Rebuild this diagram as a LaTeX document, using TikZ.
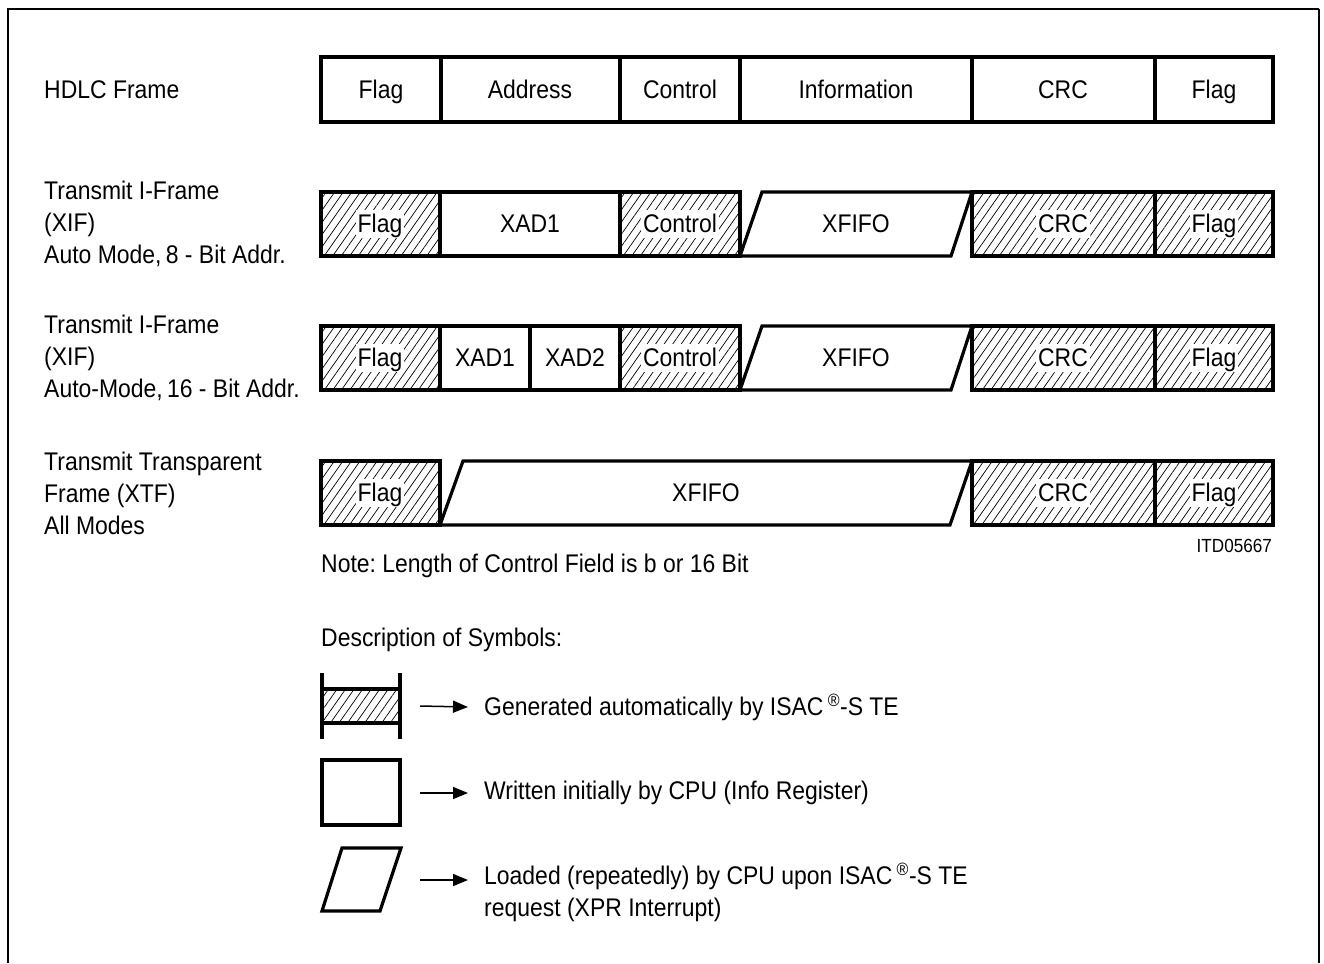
\documentclass[tikz,border=0pt]{standalone}
\usepackage{fontspec}
\setmainfont{Liberation Sans}[FakeStretch=0.9]
\usetikzlibrary{patterns.meta,arrows.meta}
\frenchspacing
\begin{document}
\begin{tikzpicture}[x=1pt,y=-1pt,
  lbl/.style={font=\fontsize{25.5}{32}\selectfont, inner sep=0pt},
  cell/.style={lbl, text height=23pt, text depth=5.4pt},
  txt/.style={lbl, anchor=west, align=left},
  boxline/.style={line width=3.2pt, line join=miter, line cap=rect},
  hatch/.style={pattern={Lines[angle=55,distance=7pt,line width=0.7pt]}},
  hlbl/.style={cell, fill=white, inner xsep=2pt, inner ysep=0pt},
  legarrow/.style={line width=1.5pt, -{Triangle[length=15pt,width=12pt]}},
  symbox/.style={minimum width=78pt, minimum height=62pt, inner sep=0pt},
]
\useasboundingbox (0,0) rectangle (1324,963);
% outer frame
\draw[line width=2.2pt] (8,963) -- (8,9);
\draw[line width=1.1pt] (7,9) -- (1319,9);
\draw[line width=1.5pt] (1319,9) -- (1319,963);

% ---------- row labels ----------
\node[txt] (l1) at (44,90) {HDLC Frame};
\node[txt] (l2) at (44,224) {Transmit I-Frame\\(XIF)\\Auto Mode,\,8 - Bit Addr.};
\node[txt] (l3) at (44,358) {Transmit I-Frame\\(XIF)\\Auto-Mode,\,16 - Bit Addr.};
\node[txt] (l4) at (44,493) {Transmit Transparent\\Frame (XTF)\\All Modes};

% ---------- row 1 ----------
\draw[boxline] (321,57) rectangle (1273,122);
\foreach \x in {441,620,740,972,1155} \draw[boxline] (\x,57) -- (\x,122);
\node[cell] (r1a) at (381,90) {Flag};
\node[cell] (r1b) at (530,90) {Address};
\node[cell] (r1c) at (680,90) {Control};
\node[cell] (r1d) at (856,90) {Information};
\node[cell] (r1e) at (1063,90) {CRC};
\node[cell] (r1f) at (1214,90) {Flag};

% ---------- row 2 ----------
\fill[hatch] (321,192) rectangle (440,256);
\fill[hatch] (620,192) rectangle (740,256);
\fill[hatch] (972,192) rectangle (1273,256);
\node[hlbl] (r2a) at (380,224) {Flag};
\node[cell] (r2b) at (530,224) {XAD1};
\node[hlbl] (r2c) at (680,224) {Control};
\node[cell] (r2d) at (856,224) {XFIFO};
\node[hlbl] (r2e) at (1063,224) {CRC};
\node[hlbl] (r2f) at (1214,224) {Flag};
\draw[boxline] (321,192) rectangle (740,256);
\foreach \x in {440,620} \draw[boxline] (\x,192) -- (\x,256);
\draw[boxline] (740,256) -- (762,192) -- (972,192) -- (951,256) -- cycle;
\draw[boxline] (972,192) rectangle (1273,256);
\draw[boxline] (1155,192) -- (1155,256);

% ---------- row 3 ----------
\fill[hatch] (321,326) rectangle (440,390);
\fill[hatch] (620,326) rectangle (740,390);
\fill[hatch] (972,326) rectangle (1273,390);
\node[hlbl] (r3a) at (380,358) {Flag};
\node[cell] (r3b) at (485,358) {XAD1};
\node[cell] (r3g) at (575,358) {XAD2};
\node[hlbl] (r3c) at (680,358) {Control};
\node[cell] (r3d) at (856,358) {XFIFO};
\node[hlbl] (r3e) at (1063,358) {CRC};
\node[hlbl] (r3f) at (1214,358) {Flag};
\draw[boxline] (321,326) rectangle (740,390);
\foreach \x in {440,530,620} \draw[boxline] (\x,326) -- (\x,390);
\draw[boxline] (740,390) -- (762,326) -- (972,326) -- (951,390) -- cycle;
\draw[boxline] (972,326) rectangle (1273,390);
\draw[boxline] (1155,326) -- (1155,390);

% ---------- row 4 ----------
\fill[hatch] (321,461) rectangle (440,525);
\fill[hatch] (972,461) rectangle (1273,525);
\node[hlbl] (r4a) at (380,493) {Flag};
\node[cell] (r4d) at (706,493) {XFIFO};
\node[hlbl] (r4e) at (1063,493) {CRC};
\node[hlbl] (r4f) at (1214,493) {Flag};
\draw[boxline] (321,461) rectangle (440,525);
\draw[boxline] (440,525) -- (463,461) -- (972,461) -- (950,525) -- cycle;
\draw[boxline] (972,461) rectangle (1273,525);
\draw[boxline] (1155,461) -- (1155,525);

\node[lbl, font=\fontsize{19}{22}\selectfont, anchor=east] (itd) at (1272,546) {ITD05667};
\node[txt] (note) at (321,566) {Note: Length of Control Field is b or 16 Bit};
\node[txt] (desc) at (321,640) {Description of Symbols:};

% ---------- legend ----------
\node[symbox] (s1) at (361,706) {};
\fill[hatch] (322,689) rectangle (400,723);
\draw[boxline] (322,675) -- (322,737);
\draw[boxline] (400,675) -- (400,737);
\draw[boxline] (322,689) -- (400,689);
\draw[boxline] (322,723) -- (400,723);

\node[symbox] (s2) at (361,793) {};
\draw[boxline] (322,760) rectangle (400,825);

\node[symbox] (s3) at (361,880) {};
\draw[boxline] (322,911) -- (342,848) -- (401,848) -- (380,911) -- cycle;

\node[txt] (t1) at (484,707) {Generated automatically by ISAC\,\textsuperscript{®}-S TE};
\node[txt] (t2) at (484,793) {Written initially by CPU (Info Register)};
\node[txt, anchor=north west] (t3) at (484,863) {Loaded (repeatedly) by CPU upon ISAC\,\textsuperscript{®}-S TE\\request (XPR Interrupt)};

\draw[legarrow] ([xshift=20pt]s1.east) -- ([xshift=-16pt]t1.west);
\draw[legarrow] ([xshift=20pt]s2.east) -- ([xshift=-16pt]t2.west);
\draw[legarrow] ([xshift=20pt]s3.east) -- ([xshift=-16pt,yshift=-17pt]t3.north west);
\end{tikzpicture}
\end{document}
